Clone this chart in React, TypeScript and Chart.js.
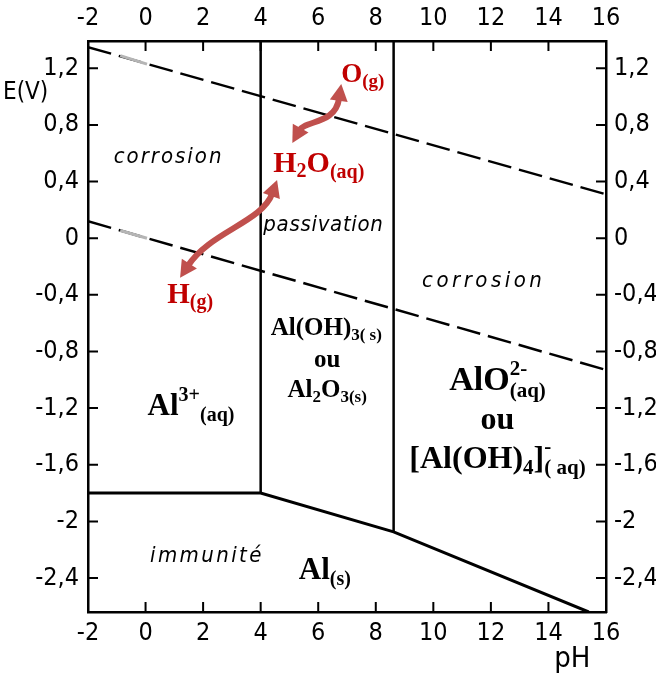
import React, { useEffect, useRef } from "react";
import { Chart, registerables } from "chart.js";

Chart.register(...registerables);

// ---- axis definitions ----
const PH_TICKS = [-2, 0, 2, 4, 6, 8, 10, 12, 14, 16];
const E_TICKS = [1.2, 0.8, 0.4, 0, -0.4, -0.8, -1.2, -1.6, -2, -2.4];
const PH_MIN = -2;
const PH_MAX = 16;
const E_MIN = -2.64;
const E_MAX = 1.393;

// ---- water stability lines (dashed) ----
const O2_LINE_PH = [-2, 16];
const O2_LINE_E = [1.35, 0.31];
const H2_LINE_PH = [-2, 16];
const H2_LINE_E = [0.12, -0.93];
// faded (grey) part of the scanned dashes
const FADED_PH = [-0.88, 0.05];
const O2_FADED_E = [1.29, 1.23];
const H2_FADED_E = [0.055, 0.0];

// ---- aluminium domain boundaries ----
const IMMUNITY_PH = [-2, 4.0, 8.62, 15.4];
const IMMUNITY_E = [-1.8, -1.8, -2.074, -2.64];
const PASSIVE_LEFT_PH = [4.0, 4.0];
const PASSIVE_LEFT_E = [1.393, -1.8];
const PASSIVE_RIGHT_PH = [8.62, 8.62];
const PASSIVE_RIGHT_E = [1.393, -2.074];

// ---- double arrows (cubic curves, in pH / E units) ----
const ARROW_H_H2O_PH = [1.2, 2.24, 4.05, 4.57];
const ARROW_H_H2O_E = [-0.28, 0.045, 0.115, 0.412];
const ARROW_H2O_O_PH = [5.1, 5.55, 6.59, 6.8];
const ARROW_H2O_O_E = [0.673, 0.836, 0.8, 1.09];

const TICK_FAMILY = "'Liberation Sans Narrow', 'DejaVu Sans Condensed', 'DejaVu Sans', sans-serif";
const SERIF = "'Liberation Serif', 'Times New Roman', serif";
const RED_TEXT = "#c00000";
const RED_ARROW = "#c0504d";

type Run = { t: string; s: number; dy?: number; stack?: boolean };
type SerifLabel = { ph: number; e: number; color: string; runs: Run[] };
type ItalicLabel = { ph: number; e: number; text: string; spacing: number };

const SERIF_LABELS: SerifLabel[] = [
  { ph: 1.58, e: -1.248, color: "#000", runs: [{ t: "Al", s: 31 }, { t: "3+", s: 20, dy: -14 }, { t: "(aq)", s: 20, dy: 6 }] },
  { ph: 6.23, e: -2.406, color: "#000", runs: [{ t: "Al", s: 31 }, { t: "(s)", s: 20, dy: 6 }] },
  { ph: 6.28, e: -0.683, color: "#000", runs: [{ t: "Al(OH)", s: 25 }, { t: "3( s)", s: 17, dy: 5 }] },
  { ph: 6.31, e: -0.909, color: "#000", runs: [{ t: "ou", s: 25 }] },
  { ph: 6.31, e: -1.121, color: "#000", runs: [{ t: "Al", s: 25 }, { t: "2", s: 17, dy: 5 }, { t: "O", s: 25 }, { t: "3(s)", s: 17, dy: 5 }] },
  { ph: 12.23, e: -1.071, color: "#000", runs: [{ t: "AlO", s: 34 }, { t: "2-", s: 21, dy: -15 }, { t: "(aq)", s: 21, dy: 7, stack: true }] },
  { ph: 12.23, e: -1.345, color: "#000", runs: [{ t: "ou", s: 32 }] },
  { ph: 12.23, e: -1.622, color: "#000", runs: [{ t: "[Al(OH)", s: 32 }, { t: "4", s: 21, dy: 6 }, { t: "]", s: 32 }, { t: "-", s: 21, dy: -15 }, { t: "( aq)", s: 21, dy: 6, stack: true }] },
  { ph: 7.55, e: 1.104, color: RED_TEXT, runs: [{ t: "O", s: 27 }, { t: "(g)", s: 19, dy: 5 }] },
  { ph: 6.02, e: 0.468, color: RED_TEXT, runs: [{ t: "H", s: 30 }, { t: "2", s: 20, dy: 5 }, { t: "O", s: 30 }, { t: "(aq)", s: 20, dy: 6 }] },
  { ph: 1.55, e: -0.456, color: RED_TEXT, runs: [{ t: "H", s: 29 }, { t: "(g)", s: 20, dy: 5 }] },
];

const ITALIC_LABELS: ItalicLabel[] = [
  { ph: 0.765, e: 0.532, text: "corrosion", spacing: 2 },
  { ph: 6.17, e: 0.052, text: "passivation", spacing: 0.7 },
  { ph: 11.69, e: -0.343, text: "corrosion", spacing: 3.5 },
  { ph: 2.09, e: -2.285, text: "immunité", spacing: 2.4 },
];

const pts = (xs: number[], ys: number[]) => xs.map((x, i) => ({ x, y: ys[i] }));
const fmt = (v: number) => {
  const r = Math.round(v * 10) / 10;
  return (r === 0 ? "0" : String(r)).replace(".", ",");
};

function drawRuns(ctx: CanvasRenderingContext2D, label: SerifLabel, cx: number, by: number) {
  const placed: { run: Run; x: number; w: number }[] = [];
  let cursor = 0;
  let prevStart = 0;
  for (const run of label.runs) {
    ctx.font = `bold ${run.s}px ${SERIF}`;
    const w = ctx.measureText(run.t).width;
    const start = run.stack ? prevStart : cursor;
    placed.push({ run, x: start, w });
    cursor = Math.max(cursor, start + w);
    prevStart = start;
  }
  const x0 = cx - cursor / 2;
  ctx.fillStyle = label.color;
  ctx.textBaseline = "alphabetic";
  ctx.textAlign = "left";
  for (const p of placed) {
    ctx.font = `bold ${p.run.s}px ${SERIF}`;
    ctx.fillText(p.run.t, x0 + p.x, by + (p.run.dy || 0));
  }
}

function drawArrow(ctx: CanvasRenderingContext2D, P: { x: number; y: number }[]) {
  const [A, B, C, D] = P;
  const head = 17;
  const half = 9;
  const norm = (dx: number, dy: number) => {
    const l = Math.hypot(dx, dy) || 1;
    return { x: dx / l, y: dy / l };
  };
  const u0 = norm(B.x - A.x, B.y - A.y);
  const u1 = norm(C.x - D.x, C.y - D.y);
  const A2 = { x: A.x + u0.x * head * 0.85, y: A.y + u0.y * head * 0.85 };
  const D2 = { x: D.x + u1.x * head * 0.85, y: D.y + u1.y * head * 0.85 };
  ctx.strokeStyle = RED_ARROW;
  ctx.fillStyle = RED_ARROW;
  ctx.lineWidth = 6;
  ctx.lineCap = "butt";
  ctx.beginPath();
  ctx.moveTo(A2.x, A2.y);
  ctx.bezierCurveTo(B.x, B.y, C.x, C.y, D2.x, D2.y);
  ctx.stroke();
  const tri = (T: { x: number; y: number }, u: { x: number; y: number }) => {
    const bx = T.x + u.x * head;
    const by = T.y + u.y * head;
    ctx.beginPath();
    ctx.moveTo(T.x, T.y);
    ctx.lineTo(bx - u.y * half, by + u.x * half);
    ctx.lineTo(bx + u.y * half, by - u.x * half);
    ctx.closePath();
    ctx.fill();
  };
  tri(A, u0);
  tri(D, u1);
}

const annotationPlugin = {
  id: "pourbaixAnnotations",
  afterDatasetsDraw(chart: any) {
    const ctx: CanvasRenderingContext2D = chart.ctx;
    const xs = chart.scales.x;
    const ys = chart.scales.y;
    const px = (v: number) => xs.getPixelForValue(v);
    const py = (v: number) => ys.getPixelForValue(v);
    const { left, right, top, bottom } = chart.chartArea;
    const TICK = 10;

    ctx.save();
    // inward tick marks
    ctx.strokeStyle = "#000";
    ctx.lineWidth = 2;
    ctx.beginPath();
    for (const v of PH_TICKS) {
      if (v === PH_MIN || v === PH_MAX) continue;
      const x = px(v);
      ctx.moveTo(x, top);
      ctx.lineTo(x, top + TICK);
      ctx.moveTo(x, bottom);
      ctx.lineTo(x, bottom - TICK);
    }
    for (const v of E_TICKS) {
      const y = py(v);
      ctx.moveTo(left, y);
      ctx.lineTo(left + TICK, y);
      ctx.moveTo(right, y);
      ctx.lineTo(right - TICK, y);
    }
    ctx.stroke();

    // arrows
    drawArrow(ctx, ARROW_H_H2O_PH.map((p, i) => ({ x: px(p), y: py(ARROW_H_H2O_E[i]) })));
    drawArrow(ctx, ARROW_H2O_O_PH.map((p, i) => ({ x: px(p), y: py(ARROW_H2O_O_E[i]) })));

    // italic domain names
    ctx.fillStyle = "#000";
    ctx.textAlign = "center";
    ctx.textBaseline = "alphabetic";
    for (const l of ITALIC_LABELS) {
      ctx.font = `italic 22px ${TICK_FAMILY}`;
      (ctx as any).letterSpacing = `${l.spacing}px`;
      ctx.fillText(l.text, px(l.ph) + l.spacing / 2, py(l.e));
    }
    (ctx as any).letterSpacing = "0px";

    // species labels
    for (const l of SERIF_LABELS) drawRuns(ctx, l, px(l.ph), py(l.e));

    // axis titles
    ctx.fillStyle = "#000";
    ctx.textAlign = "left";
    ctx.font = `24px ${TICK_FAMILY}`;
    ctx.fillText("E(V)", left - 85, py(0.984));
    ctx.textAlign = "center";
    ctx.font = `29px ${TICK_FAMILY}`;
    ctx.fillText("pH", px(14.83), bottom + 55);
    ctx.restore();
  },
};

export default function App() {
  const ref = useRef<HTMLCanvasElement | null>(null);
  useEffect(() => {
    if (!ref.current) return;
    const tickFont = { family: TICK_FAMILY, size: 25 };
    const border = { display: true, color: "#000", width: 2.5 };
    const grid = { display: false, drawTicks: false };
    const line = (data: any[], extra: any = {}) => ({
      data,
      showLine: true,
      pointRadius: 0,
      pointHoverRadius: 0,
      borderColor: "#000",
      borderWidth: 2.5,
      fill: false,
      tension: 0,
      xAxisID: "x",
      yAxisID: "y",
      ...extra,
    });
    const xTicks = (s: any) => {
      s.ticks = PH_TICKS.map((v) => ({ value: v }));
    };
    const yTicks = (s: any) => {
      s.ticks = E_TICKS.map((v) => ({ value: v }));
    };
    const chart = new Chart(ref.current, {
      type: "scatter",
      data: {
        datasets: [
          line(pts(O2_LINE_PH, O2_LINE_E), { borderDash: [24, 8], order: 2 }),
          line(pts(H2_LINE_PH, H2_LINE_E), { borderDash: [24, 8], order: 2 }),
          line(pts(FADED_PH, O2_FADED_E), { borderColor: "#b5b5b5", borderWidth: 3, order: -1 }),
          line(pts(FADED_PH, H2_FADED_E), { borderColor: "#b5b5b5", borderWidth: 3, order: -1 }),
          line(pts(IMMUNITY_PH, IMMUNITY_E), { borderWidth: 3, order: 1 }),
          line(pts(PASSIVE_LEFT_PH, PASSIVE_LEFT_E), { order: 1 }),
          line(pts(PASSIVE_RIGHT_PH, PASSIVE_RIGHT_E), { order: 1 }),
        ],
      },
      options: {
        animation: false,
        responsive: false,
        devicePixelRatio: 1,
        events: [],
        layout: { padding: 0 },
        plugins: { legend: { display: false }, tooltip: { enabled: false } },
        scales: {
          x: {
            type: "linear",
            position: "bottom",
            min: PH_MIN,
            max: PH_MAX,
            afterBuildTicks: xTicks,
            afterFit: (s: any) => {
              s.height = 70;
            },
            grid,
            border,
            ticks: { color: "#000", font: tickFont, padding: 6, maxRotation: 0, autoSkip: false, callback: (v: any) => fmt(Number(v)) },
          },
          x2: {
            type: "linear",
            position: "top",
            min: PH_MIN,
            max: PH_MAX,
            afterBuildTicks: xTicks,
            afterFit: (s: any) => {
              s.height = 41;
            },
            grid,
            border,
            ticks: { color: "#000", font: tickFont, padding: 8, maxRotation: 0, autoSkip: false, callback: (v: any) => fmt(Number(v)) },
          },
          y: {
            type: "linear",
            position: "left",
            min: E_MIN,
            max: E_MAX,
            afterBuildTicks: yTicks,
            afterFit: (s: any) => {
              s.width = 88;
            },
            grid,
            border,
            ticks: { color: "#000", font: tickFont, padding: 9, autoSkip: false, callback: (v: any) => fmt(Number(v)) },
          },
          y2: {
            type: "linear",
            position: "right",
            min: E_MIN,
            max: E_MAX,
            afterBuildTicks: yTicks,
            afterFit: (s: any) => {
              s.width = 50;
            },
            grid,
            border,
            ticks: { color: "#000", font: tickFont, padding: 8, autoSkip: false, callback: (v: any) => fmt(Number(v)) },
          },
        },
      } as any,
      plugins: [annotationPlugin],
    });
    return () => chart.destroy();
  }, []);
  return (
    <div style={{ position: "fixed", left: 0, top: 0, width: 656, height: 682, background: "#fff" }}>
      <canvas ref={ref} width={656} height={682} style={{ display: "block" }} />
    </div>
  );
}
